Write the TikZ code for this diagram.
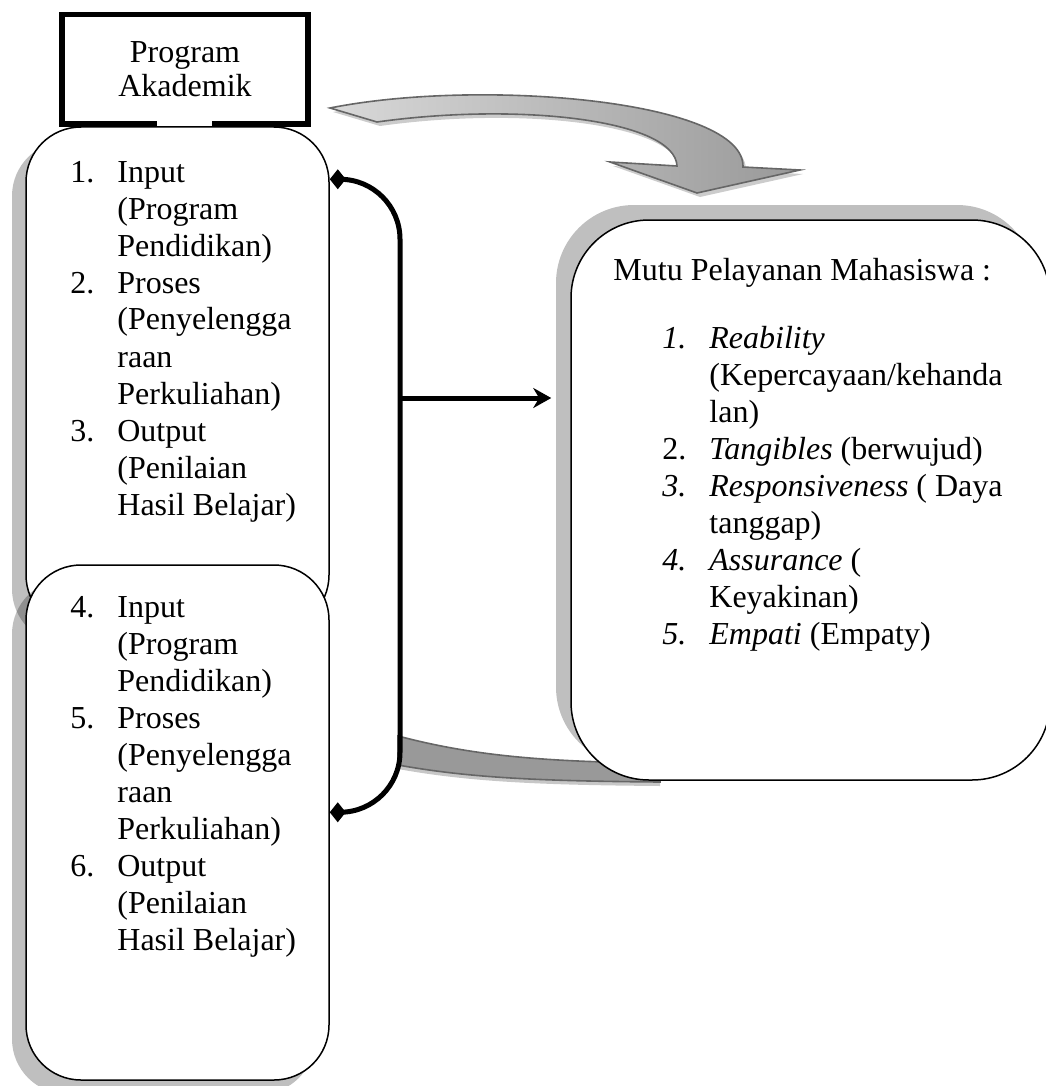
\documentclass[tikz,border=0pt]{standalone}
\usepackage{fontspec}
\setmainfont{Liberation Serif}
\usetikzlibrary{arrows.meta,shadows}

\newcommand{\bigbend}{(330,108) .. controls (480,78) and (745,100) .. (743,167) -- (800,170) -- (697,193) -- (610,162) -- (677,166) .. controls (675,120) and (520,102) .. (377,122) -- cycle}
\newcommand{\lowbend}{(398,736) .. controls (470,755) and (540,762) .. (660,763) -- (660,782) .. controls (540,781) and (470,778) .. (398,765) -- cycle}
\tikzset{roundbox/.style={draw,line width=0.75pt,fill=white,rounded corners=27.5pt,minimum width=151.5pt,inner sep=0pt},
  downshadow/.style={drop shadow={shadow xshift=-7pt,shadow yshift=-7pt,fill=black,opacity=.25}},
  upshadow/.style={drop shadow={shadow xshift=-7.5pt,shadow yshift=7.5pt,fill=black,opacity=.25}},
  listtext/.style={font=\fontsize{16}{18.5}\selectfont,inner sep=0pt,anchor=base west},
  link/.style={line width=2.5pt},
  bendarrow/.style={draw=black!60,line width=0.8pt}}

\begin{document}
\begin{tikzpicture}[x=0.5pt,y=-0.5pt]
    \useasboundingbox (0,0) rectangle (1045,1086);
    % the two grey bent arrows
    \fill[black!22,shift={(0,4)}] \lowbend;
    \path[bendarrow,fill=black!40] \lowbend;
    \fill[black!20,shift={(3,4)}] \bigbend;
    \path[bendarrow,left color=black!15,right color=black!40] \bigbend;
    % the boxes
    \node[roundbox,downshadow,minimum height=251.5pt] (up) at (177.5,378.5) {};
    \node[roundbox,downshadow,minimum height=257.5pt] (low) at (177.5,822.5) {};
    \node[roundbox,upshadow,rounded corners=39pt,minimum width=239.5pt,minimum height=280pt] (mutu) at (810.5,500) {};
    \node[draw,line width=2.75pt,fill=white,minimum width=123pt,minimum height=54.75pt,align=center,font=\fontsize{16}{17}\selectfont] (prog) at (185,69.25) {Program\\Akademik};
    \fill[white] (157,118) rectangle (212,126.5);
    % the texts of the boxes
    \node[listtext] (uplist) at (70,182) {\begin{tabular}[t]{@{}p{23.5pt}@{}l@{}}
        1. & Input\\
           & (Program\\
           & Pendidikan)\\
        2. & Proses\\
           & (Penyelengga\\
           & raan\\
           & Perkuliahan)\\
        3. & Output\\
           & (Penilaian\\
           & Hasil Belajar)
    \end{tabular}};
    \node[listtext] (lowlist) at (70,617) {\begin{tabular}[t]{@{}p{23.5pt}@{}l@{}}
        4. & Input\\
           & (Program\\
           & Pendidikan)\\
        5. & Proses\\
           & (Penyelengga\\
           & raan\\
           & Perkuliahan)\\
        6. & Output\\
           & (Penilaian\\
           & Hasil Belajar)
    \end{tabular}};
    \node[listtext] (mututitle) at (613,280) {Mutu Pelayanan Mahasiswa :};
    \node[listtext] (mutulist) at (662,348) {\begin{tabular}[t]{@{}p{23.5pt}@{}l@{}}
        \textit{1.} & \textit{Reability}\\
           & (Kepercayaan/kehanda\\
           & lan)\\
        2. & \textit{Tangibles} (berwujud)\\
        \textit{3.} & \textit{Responsiveness} ( Daya\\
           & tanggap)\\
        \textit{4.} & \textit{Assurance} (\\
           & Keyakinan)\\
        \textit{5.} & \textit{Empati} (Empaty)
    \end{tabular}};
    % the black bracket and its arrow
    \draw[link,{Diamond[length=8pt,width=10pt]}-{Diamond[length=8pt,width=10pt]},rounded corners=30pt]
        ([yshift=-26.5pt]up.north east) -| (400,500) |- ([yshift=-124pt]low.north east);
    \coordinate (fork) at (400,398);
    \draw[link,-{Stealth[length=9pt,width=10pt]},shorten >=9.5pt] (fork) -- (fork -| mutu.west);
\end{tikzpicture}
\end{document}
